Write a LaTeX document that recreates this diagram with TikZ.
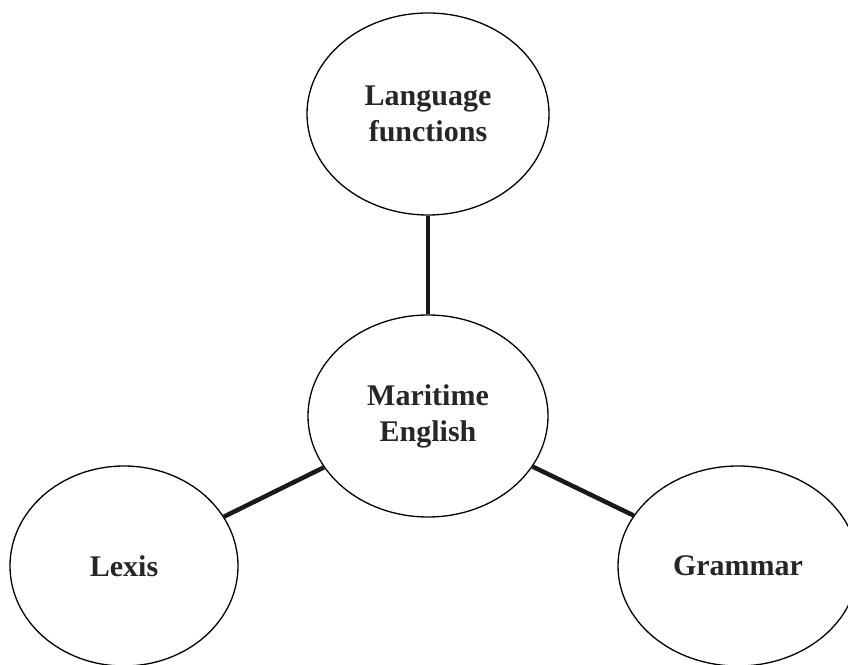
\documentclass[tikz,border=0pt]{standalone}
\usepackage{fontspec}
\setmainfont{Liberation Serif}
\usetikzlibrary{shapes.geometric}

\tikzset{
	topic/.style={draw, ellipse, line width=1.3pt, inner sep=0pt, align=center,
		font=\fontsize{30}{36}\selectfont\bfseries, text=black!85},
	link/.style={line width=4.5pt, black!90}
}

\begin{document}
\begin{tikzpicture}[x=1pt,y=1pt]
	\useasboundingbox (0,0) rectangle (848,664);
	
	%centre
	\node[topic, minimum width=240pt, minimum height=202pt] (me) at (428,248) {Maritime\\English};
	
	%three parts
	\node[topic, minimum width=242pt, minimum height=202pt] (lf) at (428,550) {Language\\functions};
	\node[topic, minimum width=228pt, minimum height=200pt] (lex) at (124,98) {Lexis};
	\node[topic, minimum width=240pt, minimum height=200pt] (gr) at (738,98) {Grammar};
	
	%links
	\draw[link] (me) -- (lf);
	\draw[link] (me) -- (lex);
	\draw[link] (me) -- (gr);
\end{tikzpicture}
\end{document}
